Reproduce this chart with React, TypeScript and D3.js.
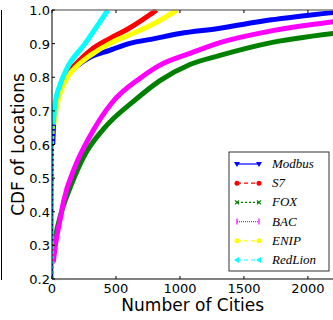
import React from 'react';
import * as d3 from 'd3';

type Pt = [number, number];

// cumulative share of locations vs number of cities
const modbus: Pt[] = [[0, 0.2], [1, 0.35], [3, 0.5], [6, 0.6], [15, 0.68], [40, 0.74], [80, 0.78], [130, 0.81], [200, 0.835], [300, 0.86], [450, 0.88], [600, 0.9], [800, 0.915], [1000, 0.93], [1300, 0.945], [1700, 0.97], [2200, 0.993]];
const s7: Pt[] = [[0, 0.2], [2, 0.4], [5, 0.6], [15, 0.68], [40, 0.74], [80, 0.785], [130, 0.815], [200, 0.845], [300, 0.88], [450, 0.915], [600, 0.945], [818, 1.0]];
const fox: Pt[] = [[0, 0.2], [10, 0.27], [30, 0.33], [60, 0.38], [100, 0.43], [150, 0.48], [250, 0.565], [400, 0.645], [648, 0.732], [844, 0.79], [1078, 0.838], [1313, 0.865], [1677, 0.9], [2200, 0.93]];
const bac: Pt[] = [[0, 0.2], [10, 0.25], [30, 0.31], [60, 0.37], [90, 0.43], [180, 0.534], [290, 0.62], [470, 0.725], [688, 0.797], [844, 0.836], [1078, 0.871], [1313, 0.903], [1677, 0.935], [2200, 0.965]];
const enip: Pt[] = [[0, 0.2], [2, 0.4], [5, 0.58], [15, 0.66], [40, 0.72], [80, 0.77], [130, 0.805], [200, 0.835], [300, 0.865], [450, 0.9], [600, 0.925], [800, 0.96], [977, 1.0]];
const redlion: Pt[] = [[0, 0.2], [2, 0.45], [5, 0.6], [10, 0.66], [23, 0.72], [60, 0.775], [115, 0.825], [258, 0.9], [437, 1.0]];

const seriesNames = ['Modbus', 'S7', 'FOX', 'BAC', 'ENIP', 'RedLion'];
const seriesData = [modbus, s7, fox, bac, enip, redlion];
const seriesColors = ['#0000ff', '#ff0000', '#008000', '#ff00ff', '#ffff00', '#00ffff'];
const seriesDash = ['none', '4,3', '2,2', '1,1', '4,3', '4,3'];
// how many leading points form the thin, nearly vertical start of each curve
const thinStart = [3, 3, 1, 1, 3, 3];

const xTicks = [0, 500, 1000, 1500, 2000];
const yTicks = [0.2, 0.3, 0.4, 0.5, 0.6, 0.7, 0.8, 0.9, 1.0];

const left = 52, top = 10, right = 333.5, bottom = 279;

const Marker: React.FC<{ i: number; x: number; y: number }> = ({ i, x, y }) => {
  const c = seriesColors[i];
  if (i === 0) return <path d={`M${x - 3},${y - 2}L${x + 3},${y - 2}L${x},${y + 3}Z`} fill={c} />;
  if (i === 1 || i === 4) return <circle cx={x} cy={y} r={2.5} fill={c} />;
  if (i === 2) return <path d={`M${x - 2},${y - 2}L${x + 2},${y + 2}M${x - 2},${y + 2}L${x + 2},${y - 2}`} stroke={c} strokeWidth={1.2} />;
  if (i === 3) return <line x1={x} x2={x} y1={y - 3} y2={y + 3} stroke={c} strokeWidth={1.2} />;
  return <path d={`M${x - 3},${y}L${x + 2},${y - 3}L${x + 2},${y + 3}Z`} fill={c} />;
};

const App: React.FC = () => {
  const x = d3.scaleLinear().domain([0, 2200]).range([left, right]);
  const y = d3.scaleLinear().domain([0.2, 1.0]).range([bottom, top]);
  const line = d3.line<Pt>().x(d => x(d[0])).y(d => y(d[1])).curve(d3.curveMonotoneX);

  const legX = 229, legY = 152, legW = 100, legH = 119;

  return (
    <svg width={333} height={320} style={{ position: 'absolute', left: 0, top: 0, background: 'white' }}
      fontFamily="DejaVu Sans">
      <defs>
        <clipPath id="plot">
          <rect x={left} y={top - 1} width={right - left} height={bottom - top + 1} />
        </clipPath>
      </defs>
      {/* edge of neighbouring panel */}
      <line x1={1.5} x2={1.5} y1={top} y2={bottom + 1} stroke="#000" strokeWidth={1} />

      <g clipPath="url(#plot)">
        {seriesData.map((d, i) => (
          <g key={seriesNames[i]}>
            <path d={line(d.slice(0, thinStart[i] + 1)) ?? ''} fill="none" stroke={seriesColors[i]}
              strokeWidth={2.5} strokeDasharray={seriesDash[i] === 'none' ? undefined : '3,2'} />
            <path d={line(d.slice(thinStart[i])) ?? ''} fill="none" stroke={seriesColors[i]}
              strokeWidth={5} strokeLinejoin="round" />
          </g>
        ))}
      </g>

      {/* spines */}
      <line x1={left} x2={right} y1={top} y2={top} stroke="#808080" strokeWidth={1.5} />
      <line x1={left} x2={left} y1={top} y2={bottom} stroke="#000" strokeWidth={1} />
      <line x1={left} x2={right} y1={bottom} y2={bottom} stroke="#000" strokeWidth={1} />

      {xTicks.map(t => (
        <g key={t}>
          <line x1={x(t)} x2={x(t)} y1={bottom} y2={bottom - 3} stroke="#000" />
          <line x1={x(t)} x2={x(t)} y1={top} y2={top + 3} stroke="#000" />
          <text x={x(t)} y={bottom + 14} fontSize={13} textAnchor="middle">{t}</text>
        </g>
      ))}
      {yTicks.map(t => (
        <g key={t}>
          <line x1={left} x2={left + 3} y1={y(t)} y2={y(t)} stroke="#000" />
          <text x={left - 2} y={y(t) + 5} fontSize={13} textAnchor="end">{t.toFixed(1)}</text>
        </g>
      ))}

      <text x={(left + right) / 2} y={311} fontSize={17} textAnchor="middle">Number of Cities</text>
      <text transform={`translate(24,${(top + bottom) / 2}) rotate(-90)`} fontSize={17} textAnchor="middle">CDF of Locations</text>

      {/* legend */}
      <rect x={legX} y={legY} width={legW} height={legH} fill="white" stroke="#333" strokeWidth={1} />
      {seriesNames.map((n, i) => {
        const ly = legY + 12 + i * 19.2;
        return (
          <g key={n}>
            <line x1={legX + 8} x2={legX + 30} y1={ly} y2={ly} stroke={seriesColors[i]}
              strokeWidth={1.2} strokeDasharray={seriesDash[i]} />
            <Marker i={i} x={legX + 8} y={ly} />
            <Marker i={i} x={legX + 30} y={ly} />
            <text x={legX + 43} y={ly + 4} fontSize={13} fontStyle="italic" fontFamily="Liberation Serif">{n}</text>
          </g>
        );
      })}
    </svg>
  );
};

export default App;
